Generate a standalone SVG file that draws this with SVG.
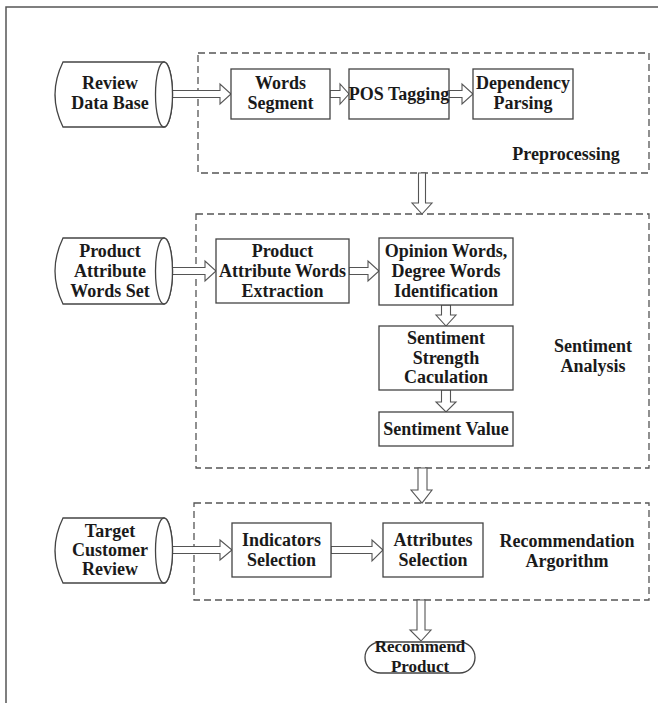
<svg xmlns="http://www.w3.org/2000/svg" width="658" height="703" viewBox="0 0 658 703">
<style>
  .frame{fill:none;stroke:#555;stroke-width:1.5}
  .dash{fill:none;stroke:#555;stroke-width:1.3;stroke-dasharray:7 4}
  .box{fill:#fff;stroke:#444;stroke-width:1.3}
  .arr{fill:#fff;stroke:#555;stroke-width:1.1;stroke-linejoin:miter}
  text{font-family:"Liberation Serif","Times New Roman",serif;font-weight:bold;font-size:18px;fill:#1a1a1a;text-anchor:middle}
  .sm{font-size:17px}
</style>
<rect width="658" height="703" fill="#fff"/>
<rect class="frame" x="6" y="7" width="700" height="720"/>

<g id="group-preprocessing">
  <rect class="dash" x="198" y="53" width="451" height="120"/>
  <text x="566" y="160">Preprocessing</text>
</g>
<g id="group-sentiment">
  <rect class="dash" x="196" y="214" width="453" height="254"/>
  <text x="593" y="352">Sentiment</text>
  <text x="593" y="372">Analysis</text>
</g>
<g id="group-recommendation">
  <rect class="dash" x="194" y="503" width="455" height="97"/>
  <text x="567" y="547">Recommendation</text>
  <text x="567" y="567">Argorithm</text>
</g>

<g id="connectors">
  <polygon class="arr" points="172,90.5 220,90.5 220,84 231,94 220,104 220,97.5 172,97.5"/>
  <polygon class="arr" points="330,90.5 340,90.5 340,84 349,94 340,104 340,97.5 330,97.5"/>
  <polygon class="arr" points="449,90.5 462,90.5 462,84 473,94 462,104 462,97.5 449,97.5"/>
  <polygon class="arr" points="418.5,173 425.5,173 425.5,203 432,203 422,214 412,203 418.5,203"/>
  <polygon class="arr" points="172,267.5 205,267.5 205,261 216,271 205,281 205,274.5 172,274.5"/>
  <polygon class="arr" points="349,267.5 368,267.5 368,261 379,271 368,281 368,274.5 349,274.5"/>
  <polygon class="arr" points="441.5,305 450.5,305 450.5,315 456,315 446,326 436,315 441.5,315"/>
  <polygon class="arr" points="441.5,390 450.5,390 450.5,402 456,402 446,412 436,402 441.5,402"/>
  <polygon class="arr" points="418,468 427,468 427,490 432,490 422,503 411,490 418,490"/>
  <polygon class="arr" points="172,546.5 220,546.5 220,540 232,550 220,560 220,553.5 172,553.5"/>
  <polygon class="arr" points="331,546.5 372,546.5 372,540 383,550 372,561 372,553.5 331,553.5"/>
  <polygon class="arr" points="417,600 425,600 425,630 431,630 421,641 410,630 417,630"/>
</g>

<g id="review-db">
  <path class="box" d="M63,62 L164,62 A8.5,32.5 0 0 1 164,127 L63,127 Q47,94.5 63,62 Z"/>
  <ellipse class="box" cx="164" cy="94.5" rx="8.5" ry="32.5"/>
  <text x="110" y="89">Review</text>
  <text x="110" y="109">Data Base</text>
</g>
<g id="words-segment">
  <rect class="box" x="231" y="69" width="99" height="50"/>
  <text x="280.5" y="89">Words</text>
  <text x="280.5" y="109">Segment</text>
</g>
<g id="pos-tagging">
  <rect class="box" x="349" y="69" width="100" height="50"/>
  <text x="399" y="100">POS Tagging</text>
</g>
<g id="dependency-parsing">
  <rect class="box" x="473" y="69" width="100" height="50"/>
  <text x="523" y="89">Dependency</text>
  <text x="523" y="109">Parsing</text>
</g>

<g id="attr-words-set">
  <path class="box" d="M63,238 L164,238 A8.5,33 0 0 1 164,304 L63,304 Q47,271 63,238 Z"/>
  <ellipse class="box" cx="164" cy="271" rx="8.5" ry="33"/>
  <text x="110" y="257">Product</text>
  <text x="110" y="277">Attribute</text>
  <text x="110" y="297">Words Set</text>
</g>
<g id="attr-extraction">
  <rect class="box" x="216" y="239" width="133" height="64"/>
  <text x="282.5" y="257">Product</text>
  <text x="282.5" y="277">Attribute Words</text>
  <text x="282.5" y="297">Extraction</text>
</g>
<g id="opinion-words">
  <rect class="box" x="379" y="238" width="134" height="67"/>
  <text x="446" y="257">Opinion Words,</text>
  <text x="446" y="277">Degree Words</text>
  <text x="446" y="297">Identification</text>
</g>
<g id="sentiment-strength">
  <rect class="box" x="379" y="326" width="134" height="64"/>
  <text x="446" y="344">Sentiment</text>
  <text x="446" y="364">Strength</text>
  <text x="446" y="383">Caculation</text>
</g>
<g id="sentiment-value">
  <rect class="box" x="379" y="412" width="134" height="34"/>
  <text x="446" y="435">Sentiment Value</text>
</g>

<g id="target-review">
  <path class="box" d="M63,518 L164,518 A8.5,32.5 0 0 1 164,583 L63,583 Q47,550.5 63,518 Z"/>
  <ellipse class="box" cx="164" cy="550.5" rx="8.5" ry="32.5"/>
  <text x="110" y="537">Target</text>
  <text x="110" y="556">Customer</text>
  <text x="110" y="575">Review</text>
</g>
<g id="indicators-selection">
  <rect class="box" x="232" y="523" width="99" height="54"/>
  <text x="281.5" y="546">Indicators</text>
  <text x="281.5" y="566">Selection</text>
</g>
<g id="attributes-selection">
  <rect class="box" x="383" y="523" width="100" height="54"/>
  <text x="433" y="546">Attributes</text>
  <text x="433" y="566">Selection</text>
</g>

<g id="recommend-product">
  <rect class="box" x="365" y="642" width="110" height="31" rx="15.5" ry="15.5"/>
  <text class="sm" x="420" y="652">Recommend</text>
  <text class="sm" x="420" y="672">Product</text>
</g>
</svg>
